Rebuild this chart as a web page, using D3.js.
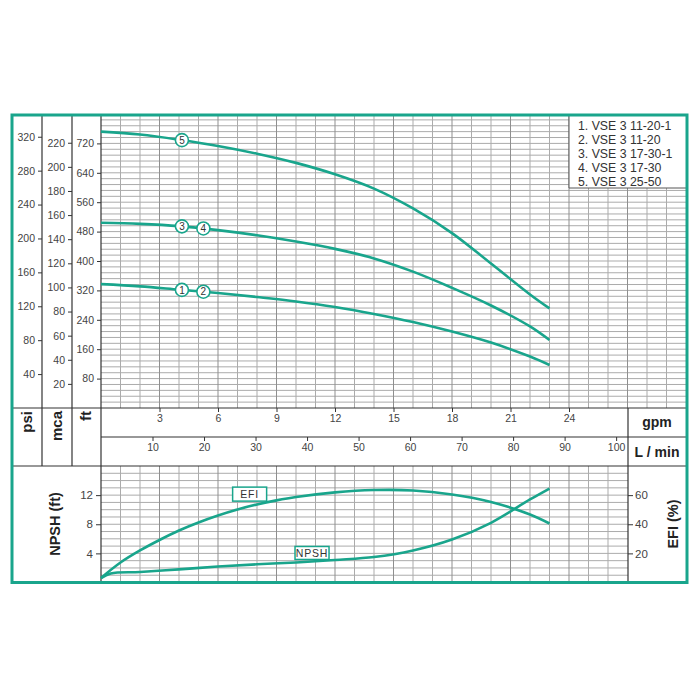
<!DOCTYPE html>
<html><head><meta charset="utf-8">
<script src="https://cdn.jsdelivr.net/npm/d3@7"></script>
<style>
html,body{margin:0;padding:0;background:#fff;}
svg{display:block;font-family:"Liberation Sans",Arial,sans-serif;}
</style></head>
<body>
<svg id="c" width="700" height="700"></svg>
<script>
// ---------- data ----------
const flowGpm = [0, 2, 4, 6, 8, 10, 12, 14, 16, 18, 20, 22, 23];
const head12 = [337, 331, 322, 313, 302, 290, 275, 256, 234, 208, 178, 140, 117];
const head34 = [504, 501, 495, 484, 470, 453, 433, 407, 371, 327, 279, 222, 185];
const head5  = [752, 744, 730, 713, 692, 667, 636, 597, 543, 476, 393, 309, 271];
const legendLabels = ["1. VSE 3 11-20-1", "2. VSE 3 11-20", "3. VSE 3 17-30-1", "4. VSE 3 17-30", "5. VSE 3 25-50"];
const effFlow = [0, 1, 2, 3, 4, 5, 6, 7, 8, 9, 10, 12, 14, 16, 18, 20, 22, 23];
const efiPct  = [3.1, 13.7, 22.0, 29.2, 35.7, 41.2, 46.0, 50.1, 53.6, 56.4, 58.7, 61.9, 63.5, 63.2, 60.4, 55.3, 46.7, 40.5];
const npshFlow = [0, 0.5, 2, 4, 6, 8, 10, 12, 14, 16, 18, 20, 22, 23];
const npshFt   = [0.6, 1.25, 1.45, 1.8, 2.2, 2.5, 2.75, 3.1, 3.5, 4.4, 5.9, 8.2, 11.4, 12.9];
const psiTicks = [40, 80, 120, 160, 200, 240, 280, 320];
const mcaTicks = [20, 40, 60, 80, 100, 120, 140, 160, 180, 200, 220];
const ftTicks = [80, 160, 240, 320, 400, 480, 560, 640, 720];
const gpmTicks = [3, 6, 9, 12, 15, 18, 21, 24];
const lminTicks = [10, 20, 30, 40, 50, 60, 70, 80, 90, 100];
const npshTicks = [4, 8, 12];
const efiTicks = [20, 40, 60];
const curveLabels = [
  {txt: "5", series: 2, q: 4.15},
  {txt: "3", series: 1, q: 4.15},
  {txt: "4", series: 1, q: 5.25},
  {txt: "1", series: 0, q: 4.15},
  {txt: "2", series: 0, q: 5.25}
];

// ---------- setup ----------
const TEAL = "#19a58c", GRID = "#ababab", GRID2 = "#8f8f8f", AX = "#333", TXT = "#444";
const svg = d3.select("#c");
const L = 12, R = 686, T = 116, B = 582;
const X0 = 101, TOPB = 408, ROW2 = 437, MID = 466, XR = 628;
const FT_PER_PSI = 2.30666, FT_PER_M = 3.28084, LMIN_PER_GPM = 3.78541;

const x = d3.scaleLinear().domain([0, 30]).range([X0, 686]);
const xL = d3.scaleLinear().domain([0, 30 * LMIN_PER_GPM]).range([X0, 686]);
const yFt = d3.scaleLinear().domain([0, 800]).range([TOPB, TOPB - 294]);
const yPsi = d3.scaleLinear().domain([0, 800 / FT_PER_PSI]).range([TOPB, TOPB - 294]);
const yM = d3.scaleLinear().domain([0, 800 / FT_PER_M]).range([TOPB, TOPB - 294]);
const yN = d3.scaleLinear().domain([0, 16]).range([582.5, MID]);
const yE = d3.scaleLinear().domain([0, 80]).range([582.5, MID]);

// ---------- top grid ----------
const gTop = svg.append("g");
d3.range(16, 795, 16).forEach(v => {
  gTop.append("line").attr("x1", X0).attr("x2", R).attr("y1", yFt(v)).attr("y2", yFt(v))
    .attr("stroke", GRID).attr("stroke-width", 1);
});
d3.range(1, 30).forEach(v => {
  gTop.append("line").attr("x1", x(v)).attr("x2", x(v)).attr("y1", T).attr("y2", TOPB)
    .attr("stroke", v % 3 === 0 ? GRID2 : GRID).attr("stroke-width", 1);
});

// ---------- bottom grid ----------
const gBot = svg.append("g");
d3.range(1, 16).forEach(v => {
  gBot.append("line").attr("x1", X0).attr("x2", XR).attr("y1", yN(v)).attr("y2", yN(v))
    .attr("stroke", GRID).attr("stroke-width", 1);
});
d3.range(1, 27).forEach(v => {
  gBot.append("line").attr("x1", x(v)).attr("x2", x(v)).attr("y1", MID).attr("y2", B)
    .attr("stroke", v % 3 === 0 ? GRID2 : GRID).attr("stroke-width", 1);
});

// ---------- dividers ----------
const div = (x1, y1, x2, y2) => svg.append("line").attr("x1", x1).attr("y1", y1).attr("x2", x2).attr("y2", y2)
  .attr("stroke", AX).attr("stroke-width", 1.2);
div(42, T, 42, MID); div(72, T, 72, MID); div(X0, T, X0, B);
div(L, TOPB, R, TOPB); div(L, MID, R, MID); div(X0, ROW2, R, ROW2); div(XR, TOPB, XR, B);

// ---------- left axes ----------
function leftAxis(scale, ticks, xpos) {
  const g = svg.append("g").attr("transform", `translate(${xpos},0)`)
    .call(d3.axisLeft(scale).tickValues(ticks).tickSize(4).tickPadding(3).tickSizeOuter(0));
  g.select(".domain").remove();
  g.selectAll("line").attr("stroke", AX);
  g.selectAll("text").attr("fill", TXT).attr("font-size", 10.5).attr("font-family", "Liberation Sans, Arial, sans-serif");
}
leftAxis(yPsi, psiTicks, 42);
leftAxis(yM, mcaTicks, 72);
leftAxis(yFt, ftTicks, X0);

// ---------- flow axes ----------
function flowAxis(scale, ticks, ypos) {
  const g = svg.append("g").attr("transform", `translate(0,${ypos})`)
    .call(d3.axisBottom(scale).tickValues(ticks).tickSize(4).tickPadding(3).tickSizeOuter(0));
  g.select(".domain").remove();
  g.selectAll("line").attr("stroke", AX);
  g.selectAll("text").attr("fill", TXT).attr("font-size", 10.5).attr("font-family", "Liberation Sans, Arial, sans-serif");
}
flowAxis(x, gpmTicks, TOPB);
flowAxis(xL, lminTicks, ROW2);

// ---------- bottom axes ----------
(function () {
  const g = svg.append("g").attr("transform", `translate(${X0},0)`)
    .call(d3.axisLeft(yN).tickValues(npshTicks).tickSize(5).tickPadding(3).tickSizeOuter(0));
  g.select(".domain").remove();
  g.selectAll("line").attr("stroke", AX);
  g.selectAll("text").attr("fill", TXT).attr("font-size", 11.5).attr("font-family", "Liberation Sans, Arial, sans-serif");
  const g2 = svg.append("g").attr("transform", `translate(${XR},0)`)
    .call(d3.axisRight(yE).tickValues(efiTicks).tickSize(5).tickPadding(2).tickSizeOuter(0));
  g2.select(".domain").remove();
  g2.selectAll("line").attr("stroke", AX);
  g2.selectAll("text").attr("fill", TXT).attr("font-size", 11.5).attr("font-family", "Liberation Sans, Arial, sans-serif");
})();

// ---------- labels ----------
const bold = (txt, tx, ty, rot, size, anchor) => svg.append("text")
  .attr("transform", `translate(${tx},${ty}) rotate(${rot})`)
  .attr("text-anchor", anchor).attr("font-weight", "bold").attr("font-size", size)
  .attr("fill", "#222").text(txt);
bold("psi", 32, 411, -90, 15, "end");
bold("mca", 62, 411, -90, 15, "end");
bold("ft", 91, 411, -90, 15, "end");
bold("gpm", 657, 427, 0, 14, "middle");
bold("L / min", 657, 457, 0, 14, "middle");
bold("NPSH (ft)", 60, 524, -90, 14.5, "middle");
bold("EFI (%)", 678, 524, -90, 14.5, "middle");

// ---------- curves ----------
const lineGen = d3.line().curve(d3.curveCatmullRom.alpha(0.5));
const heads = [head12, head34, head5];
const paths = heads.map(h => svg.append("path")
  .attr("d", lineGen(flowGpm.map((q, i) => [x(q), yFt(h[i])])))
  .attr("fill", "none").attr("stroke", TEAL).attr("stroke-width", 2.6));

svg.append("path").attr("d", lineGen(effFlow.map((q, i) => [x(q), yE(efiPct[i])])))
  .attr("fill", "none").attr("stroke", TEAL).attr("stroke-width", 2.6);
svg.append("path").attr("d", lineGen(npshFlow.map((q, i) => [x(q), yN(npshFt[i])])))
  .attr("fill", "none").attr("stroke", TEAL).attr("stroke-width", 2.6);

// y on rendered path at given x
function yAt(pathSel, px) {
  const node = pathSel.node(), len = node.getTotalLength();
  let lo = 0, hi = len;
  for (let k = 0; k < 40; k++) {
    const mid = (lo + hi) / 2;
    if (node.getPointAtLength(mid).x < px) lo = mid; else hi = mid;
  }
  return node.getPointAtLength(lo).y;
}
curveLabels.forEach(c => {
  const cx = x(c.q), cy = yAt(paths[c.series], cx);
  svg.append("circle").attr("cx", cx).attr("cy", cy).attr("r", 6.5)
    .attr("fill", "#fff").attr("stroke", TEAL).attr("stroke-width", 1.6);
  svg.append("text").attr("x", cx).attr("y", cy + 3.6).attr("text-anchor", "middle")
    .attr("font-size", 10).attr("fill", "#333").text(c.txt);
});

// boxed labels on bottom chart
function boxLabel(txt, bx, by, bw, bh) {
  svg.append("rect").attr("x", bx).attr("y", by).attr("width", bw).attr("height", bh)
    .attr("fill", "#fff").attr("stroke", TEAL).attr("stroke-width", 1.5);
  svg.append("text").attr("x", bx + bw / 2).attr("y", by + bh / 2 + 3.8).attr("text-anchor", "middle")
    .attr("font-size", 10.5).attr("fill", "#333").attr("letter-spacing", 0.8).text(txt);
}
boxLabel("EFI", x(6.75), yN(13.1), 34, 14);
boxLabel("NPSH", x(9.95), yN(4.95), 34, 13);

// ---------- legend ----------
svg.append("rect").attr("x", x(24)).attr("y", T).attr("width", R - x(24)).attr("height", 72)
  .attr("fill", "#fff");
svg.append("path").attr("d", `M${x(24)},${T} V${T + 72} H${R}`).attr("fill", "none")
  .attr("stroke", "#555").attr("stroke-width", 1);
legendLabels.forEach((t, i) => {
  svg.append("text").attr("x", 578).attr("y", 129.5 + i * 14.1).attr("font-size", 12.3)
    .attr("fill", "#333").text(t);
});

// ---------- outer frame ----------
svg.append("rect").attr("x", L).attr("y", 115).attr("width", R - L + 1).attr("height", B - 115 + 0.5)
  .attr("fill", "none").attr("stroke", TEAL).attr("stroke-width", 3);
</script>
</body></html>
